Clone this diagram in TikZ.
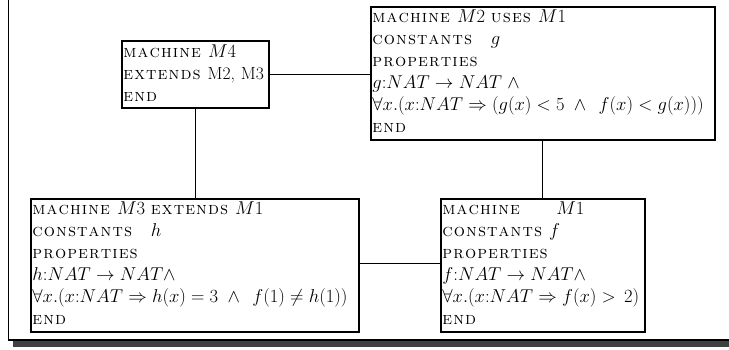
\RequirePackage{fix-cm}
\documentclass[tikz,border=0pt]{standalone}
\DeclareMathSizes{17.6}{18.6}{13}{10}
\makeatletter
\def\kw#1{{\scshape\kw@a#1\relax}}
\def\kw@a#1{\ifx#1\relax\else#1\kern1.1pt\expandafter\kw@a\fi}
\makeatother
\newcommand{\lift}{\rule[-4pt]{0pt}{0pt}}
\begin{document}
\begin{tikzpicture}[x=1pt,y=-1pt,
  mbox/.style={draw=black,line width=1.8pt,anchor=north west,inner xsep=1.5pt,inner ysep=0pt,
    align=left,font=\fontsize{17.6}{22}\selectfont},
  link/.style={draw=black,line width=0.9pt}]
\useasboundingbox (0,0) rectangle (729,349);
% frame
\fill[black!75] (13,341) rectangle (729,347);
\draw[line width=1.6pt] (8.5,0) -- (8.5,340) -- (729,340);
% boxes
\node[mbox,minimum width=147pt,minimum height=67pt,text width=144pt] (m4) at (121,40)
 {\kw{machine} $M4$\\ \kw{extends} M2, M3\\ \kw{end}\rule[-2pt]{0pt}{0pt}};
\node[mbox,minimum width=344pt,minimum height=133pt,text width=341pt] (m2) at (370,6)
 {\kw{machine} $M2$ \kw{uses} $M1$\\
  \kw{constants}\quad $g$\\
  \kw{properties}\\
  $g{:}NAT\rightarrow NAT\;\wedge$\\
  $\forall x.(x{:}NAT\Rightarrow(g(x)<5\;\wedge\;\,f(x)<g(x)))$\\
  \kw{end}\lift};
\node[mbox,minimum width=328pt,minimum height=133pt,text width=325pt] (m3) at (30,198)
 {\kw{machine} $M3$ \kw{extends} $M1$\\
  \kw{constants}\quad $h$\\
  \kw{properties}\\
  $h{:}NAT\rightarrow NAT\wedge$\\
  $\forall x.(x{:}NAT\Rightarrow h(x)=3\;\wedge\;\,f(1)\neq h(1))$\\
  \kw{end}\lift};
\node[mbox,minimum width=204pt,minimum height=133pt,text width=201pt] (m1) at (440,198)
 {\kw{machine}\qquad $M1$\\
  \kw{constants} $f$\\
  \kw{properties}\\
  $f{:}NAT\rightarrow NAT\wedge$\\
  $\forall x.(x{:}NAT\Rightarrow f(x)>\,2)$\\
  \kw{end}\lift};
% connectors
\draw[link] (m4.east) -- (m4.east -| m2.west);
\draw[link] (m4.south) -- (m4.south |- m3.north);
\draw[link] (m2.south -| 542,0) -- (m1.north -| 542,0);
\draw[link] (m3.east |- 0,263) -- (m1.west |- 0,263);
\end{tikzpicture}
\end{document}
